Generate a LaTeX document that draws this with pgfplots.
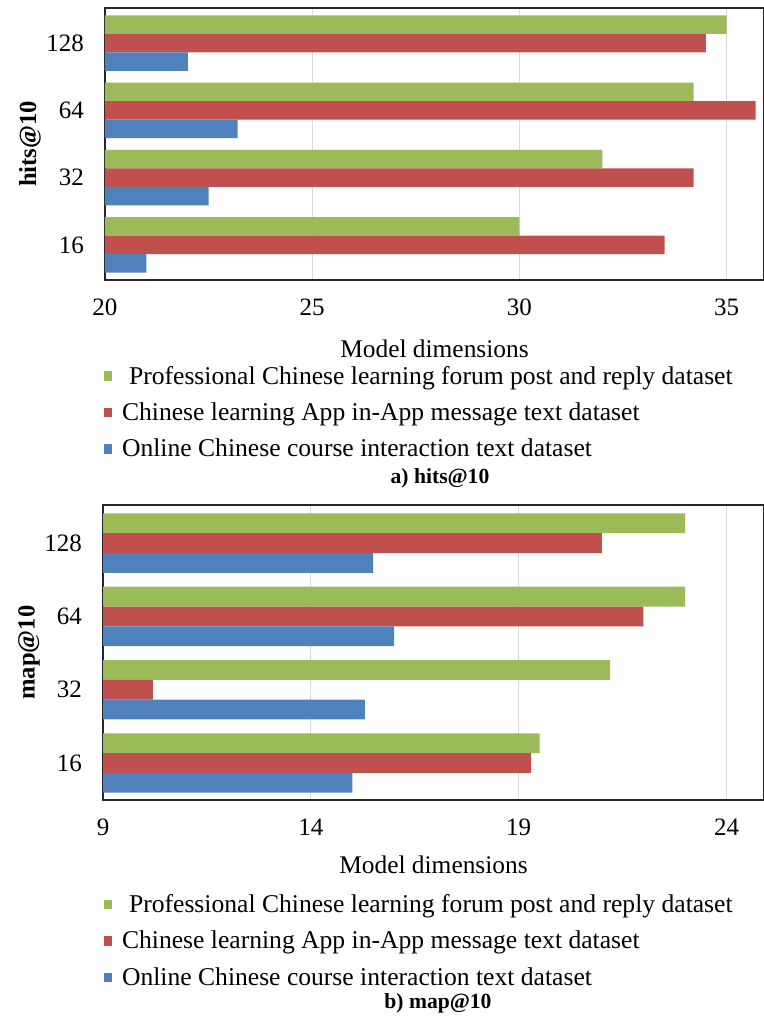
\documentclass[border=0pt]{standalone}
\usepackage{fontspec}
\setmainfont{Liberation Serif}
\usepackage{pgfplots}
\pgfplotsset{compat=1.18}

\definecolor{cgreen}{HTML}{9BBB59}
\definecolor{cred}{HTML}{C0504D}
\definecolor{cblue}{HTML}{4F81BD}

% values per model dimension (y index: 16 -> 0, 32 -> 1, 64 -> 2, 128 -> 3)
% hits@10
\def\hitsforum{(30.0,0) (32.0,1) (34.2,2) (35.0,3)}
\def\hitsapp{(33.5,0) (34.2,1) (35.7,2) (34.5,3)}
\def\hitscourse{(21.0,0) (22.5,1) (23.2,2) (22.0,3)}
% map@10
\def\mapforum{(19.5,0) (21.2,1) (23.0,2) (23.0,3)}
\def\mapapp{(19.3,0) (10.2,1) (22.0,2) (21.0,3)}
\def\mapcourse{(15.0,0) (15.3,1) (16.0,2) (15.5,3)}

\pgfplotsset{
  barstyle/.style={
    xbar, scale only axis, axis line style={black!85, line width=0.9pt},
    ytick={0,1,2,3}, yticklabels={16,32,64,128},
    major tick length=0pt,
    xmajorgrids, grid style={gray!30, line width=0.5pt},
    tick label style={font=\fontsize{12.5}{14}\selectfont},
    /pgf/number format/assume math mode=true,
    yticklabel style={xshift=-7pt},
    xticklabel style={yshift=-6pt},
    xlabel={Model dimensions},
    xlabel style={font=\fontsize{12.7}{14}\selectfont, yshift=-5pt},
    ylabel style={font=\bfseries\fontsize{12.3}{14}\selectfont, anchor=center, rotate=0},
    legend cell align=left,
    legend style={draw=none, fill=none, font=\fontsize{12.8}{14}\selectfont,
      row sep=3.8pt, inner xsep=0pt, inner ysep=0pt,
      /tikz/every odd column/.append style={column sep=3pt}},
    legend image code/.code={\fill[##1] (0pt,-2.2pt) rectangle (4pt,2.6pt);},
    axis on top=false,
  },
}

\begin{document}
\begin{tikzpicture}
\useasboundingbox (0,0) rectangle (382pt,-509pt);

% a) hits@10
\begin{axis}[barstyle,
  at={(52.5pt,-140pt)}, anchor=south west,
  width=329.5pt, height=136pt,
  xmin=20, xmax=35.9, ymin=-0.522, ymax=3.522,
  xtick={20,25,30,35},
  bar width=9.25pt,
  ylabel={hits@10},
  ylabel style={at={(axis description cs:-0.114,0.5)}},
  legend style={at={(axis description cs:-0.002,-0.3)}, anchor=north west},
]
\addplot[fill=cgreen, draw=none, bar shift=9.25pt] coordinates {\hitsforum};
\addlegendentry{\hspace{3.5pt}Professional Chinese learning forum post and reply dataset}
\addplot[fill=cred, draw=none, bar shift=0pt] coordinates {\hitsapp};
\addlegendentry{Chinese learning App in-App message text dataset}
\addplot[fill=cblue, draw=none, bar shift=-9.25pt] coordinates {\hitscourse};
\addlegendentry{Online Chinese course interaction text dataset}
\end{axis}
\node[font=\bfseries\fontsize{10.8}{12}\selectfont] at (220pt,-239pt) {a) hits@10};

% b) map@10
\begin{axis}[barstyle,
  at={(51.5pt,-400pt)}, anchor=south west,
  width=330.5pt, height=147.5pt,
  xmin=9, xmax=24.9, ymin=-0.505, ymax=3.52,
  xtick={9,14,19,24},
  bar width=9.9pt,
  ylabel={map@10},
  ylabel style={at={(axis description cs:-0.112,0.5)}},
  xlabel style={yshift=2pt},
  legend style={at={(axis description cs:0.001,-0.305)}, anchor=north west},
]
\addplot[fill=cgreen, draw=none, bar shift=9.9pt] coordinates {\mapforum};
\addlegendentry{\hspace{3.5pt}Professional Chinese learning forum post and reply dataset}
\addplot[fill=cred, draw=none, bar shift=0pt] coordinates {\mapapp};
\addlegendentry{Chinese learning App in-App message text dataset}
\addplot[fill=cblue, draw=none, bar shift=-9.9pt] coordinates {\mapcourse};
\addlegendentry{Online Chinese course interaction text dataset}
\end{axis}
\node[font=\bfseries\fontsize{10.8}{12}\selectfont] at (219pt,-501.5pt) {b) map@10};
\end{tikzpicture}
\end{document}
